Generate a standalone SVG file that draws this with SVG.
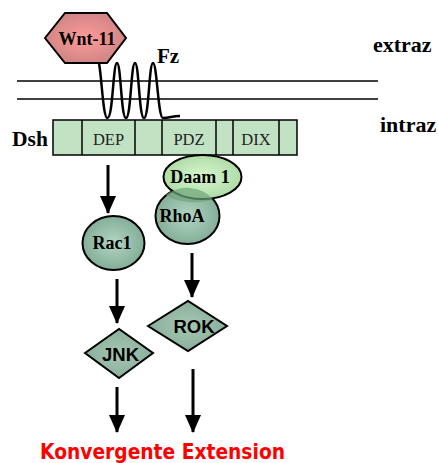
<svg xmlns="http://www.w3.org/2000/svg" width="438" height="463" viewBox="0 0 438 463">
<defs>
<radialGradient id="gWnt" cx="0.5" cy="0.5" r="0.6"><stop offset="0" stop-color="#ff9a9a"/><stop offset="1" stop-color="#c98282"/></radialGradient>
<radialGradient id="gRho" cx="0.5" cy="0.5" r="0.6"><stop offset="0" stop-color="#b2d6c2"/><stop offset="1" stop-color="#7aa690"/></radialGradient>
<radialGradient id="gDaam" cx="0.5" cy="0.5" r="0.6"><stop offset="0" stop-color="#d8f8d0"/><stop offset="1" stop-color="#a8d6a0"/></radialGradient>
<radialGradient id="gDia" cx="0.5" cy="0.5" r="0.6"><stop offset="0" stop-color="#a6c8b4"/><stop offset="1" stop-color="#84aa96"/></radialGradient>
<marker id="ah" viewBox="0 0 18 16" refX="17" refY="8" markerWidth="18" markerHeight="16" markerUnits="userSpaceOnUse" orient="auto">
<path d="M0,0 L18,8 L0,16 Z" fill="#000"/>
</marker>
</defs>
<style>
.lbl{font-family:"Liberation Serif",serif;font-weight:bold;fill:#000}
.dom{font-family:"Liberation Serif",serif;font-size:16.5px;fill:#222;text-anchor:middle}
.node{font-family:"Liberation Serif",serif;font-weight:bold;font-size:18px;fill:#000;text-anchor:middle}
.sans{font-family:"Liberation Sans",sans-serif;font-weight:bold;font-size:18.5px;fill:#000;text-anchor:middle}
.ol{stroke:#000;stroke-width:2}
.arr{stroke:#000;stroke-width:3;fill:none}
</style>

<g id="membrane">
<line x1="17" y1="81" x2="378" y2="81" stroke="#000" stroke-width="1.5"/>
<line x1="17" y1="99" x2="378" y2="99" stroke="#000" stroke-width="1.5"/>
</g>
<text class="lbl" x="373" y="52" font-size="22">extraz</text>
<text class="lbl" x="380" y="132" font-size="22">intraz</text>

<g id="dsh">
<rect x="53" y="120" width="244" height="35" fill="#c2e2c4" stroke="#000" stroke-width="1.5"/>
<g stroke="#000" stroke-width="1.5">
<line x1="82" y1="120" x2="82" y2="155"/>
<line x1="135" y1="120" x2="135" y2="155"/>
<line x1="162" y1="120" x2="162" y2="155"/>
<line x1="216" y1="120" x2="216" y2="155"/>
<line x1="233" y1="120" x2="233" y2="155"/>
<line x1="279" y1="120" x2="279" y2="155"/>
</g>
<text class="dom" x="108.5" y="145">DEP</text>
<text class="dom" x="189" y="145">PDZ</text>
<text class="dom" x="256" y="145">DIX</text>
<text class="lbl" x="12" y="146" font-size="21.5">Dsh</text>
</g>

<g id="fz">
<path d="M99,63 C102,80 103,118 107.5,118 C113,118 113,63 117,63 C121,63 121,118 126,118 C131,118 131,63 135,63 C139,63 139,118 144,118 C149,118 149,63 153,63 C157,63 158,118 163,118 C170,118 172,116 180,116" fill="none" stroke="#000" stroke-width="2.5"/>
<text class="lbl" x="157" y="63" font-size="21">Fz</text>
</g>

<g id="wnt11">
<polygon points="45,38 65,13 107,13 126,38 107,63 65,63" fill="url(#gWnt)" class="ol" stroke-width="1.5"/>
<text class="node" x="87" y="45" font-size="20">Wnt-11</text>
</g>

<g id="rhoa">
<ellipse cx="187.5" cy="216" rx="32" ry="28" fill="url(#gRho)" class="ol"/>
<text class="node" x="182" y="222">RhoA</text>
</g>
<g id="daam1">
<ellipse cx="202.5" cy="177" rx="39" ry="22" fill="url(#gDaam)" class="ol"/>
<path d="M165.5,195 A32,28 0 0 1 213,199.5 A39,22 0 0 1 165.5,195 Z" fill="#6fa57c" opacity="0.7"/>
<text class="node" x="200" y="183" font-size="17">Daam 1</text>
</g>

<g id="rac1">
<ellipse cx="113.5" cy="243" rx="31" ry="27" fill="url(#gRho)" class="ol"/>
<text class="node" x="112" y="249">Rac1</text>
</g>

<g id="jnk">
<polygon points="85,353 119,329 153,353 119,378" fill="url(#gDia)" class="ol"/>
<text class="sans" x="120.5" y="361">JNK</text>
</g>

<g id="rok">
<polygon points="148,326 188,301 227,326 188,351" fill="url(#gDia)" class="ol"/>
<text class="sans" x="194" y="333">ROK</text>
</g>

<g id="connectors">
<line class="arr" x1="108" y1="165" x2="108" y2="213" marker-end="url(#ah)"/>
<line class="arr" x1="117" y1="279" x2="117" y2="323" marker-end="url(#ah)"/>
<line class="arr" x1="192" y1="253" x2="192" y2="297" marker-end="url(#ah)"/>
<line class="arr" x1="117" y1="387" x2="117" y2="432" marker-end="url(#ah)"/>
<line class="arr" x1="193" y1="369" x2="193" y2="432" marker-end="url(#ah)"/>
</g>

<text x="40" y="459" font-family="'DejaVu Sans',sans-serif" font-weight="bold" font-size="21" fill="#ff0000" textLength="245" lengthAdjust="spacingAndGlyphs">Konvergente Extension</text>
</svg>
